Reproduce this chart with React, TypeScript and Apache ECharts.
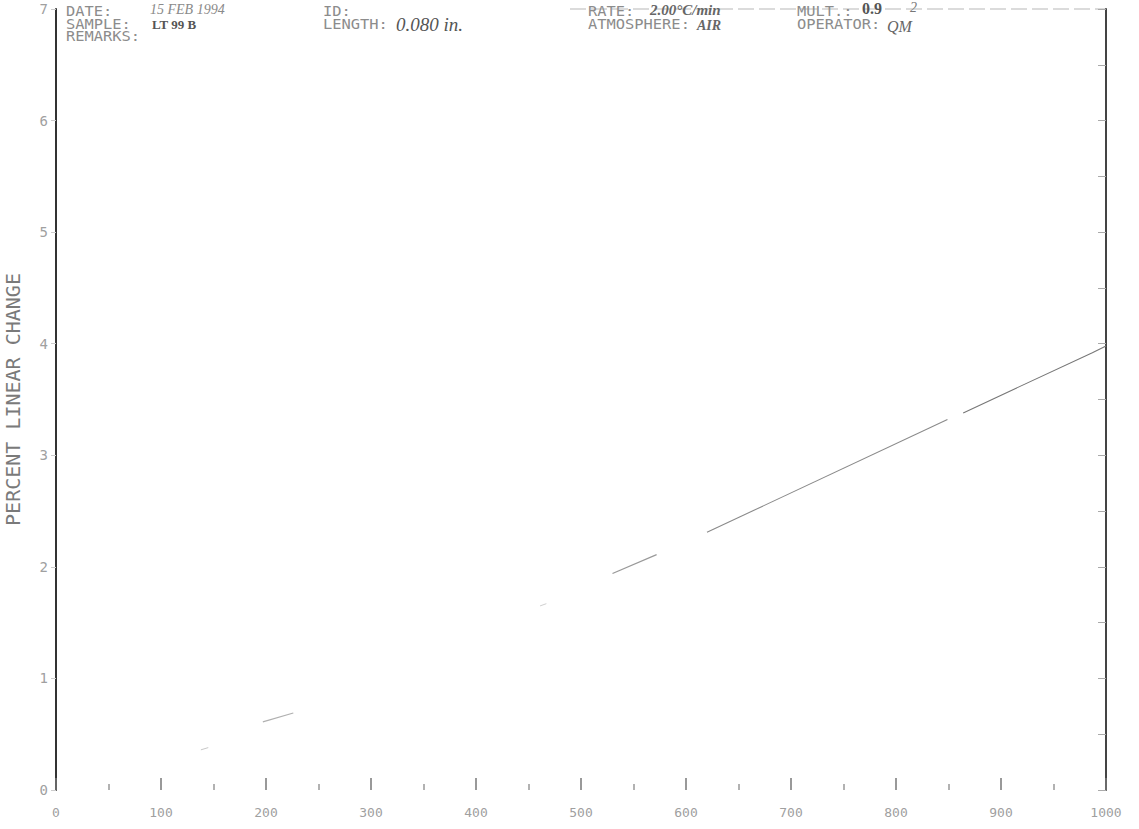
import React, { useEffect, useRef } from "react";
import * as echarts from "echarts";

// ---- data ----
const xTicks = [0, 100, 200, 300, 400, 500, 600, 700, 800, 900, 1000];
const yTicks = [0, 1, 2, 3, 4, 5, 6, 7];
const segA = [[138, 0.36], [145, 0.38]];
const segB = [[197, 0.61], [226, 0.69]];
const segC = [[461, 1.65], [467, 1.67]];
const segD = [[530, 1.94], [572, 2.11]];
const segE = [[620, 2.31], [849, 3.32]];
const segF = [[864, 3.38], [987, 3.92], [1000, 3.98]];
const yAxisTitle = "PERCENT LINEAR CHANGE";
const headerCol1 = ["DATE:", "SAMPLE:", "REMARKS:"];
const headerCol2 = ["ID:", "LENGTH:"];
const headerCol3 = ["RATE:", "ATMOSPHERE:"];
const headerCol4 = ["MULT.:", "OPERATOR:"];
const headerValues = ["15 FEB 1994", "LT 99 B", "0.080 in.", "2.00°C/min", "AIR", "0.9", "2", "QM"];

const MONO = "'DejaVu Sans Mono', 'Liberation Mono', monospace";
const HAND = "'Liberation Serif', 'DejaVu Serif', serif";

export default function App() {
  const ref = useRef<HTMLDivElement>(null);
  useEffect(() => {
    if (!ref.current) return;
    const chart = echarts.init(ref.current, undefined, { renderer: "svg" });
    const col = (lines: string[], x: number) => ({
      type: "text",
      left: x,
      top: 4,
      scaleX: 1.1,
      style: { text: lines.join("\n"), fill: "#8c8c8c", font: `14px ${MONO}`, lineHeight: 12.5 },
    });
    const val = (text: string, x: number, y: number, size: number, style: string, color: string) => ({
      type: "text",
      left: x,
      top: y,
      style: { text, fill: color, font: `${style} ${size}px ${HAND}` },
    });
    const seg = (data: number[][], color: string, width: number) => ({
      type: "line",
      data,
      showSymbol: false,
      symbol: "none",
      lineStyle: { color, width },
      silent: true,
    });
    chart.setOption({
      animation: false,
      backgroundColor: "#ffffff",
      grid: { left: 56, right: 33, top: 9, bottom: 39, containLabel: false, outerBoundsMode: "none" },
      xAxis: {
        type: "value",
        min: xTicks[0],
        max: xTicks[xTicks.length - 1],
        interval: 100,
        axisLine: { show: false },
        axisTick: { show: true, inside: true, length: 12, lineStyle: { color: "#777", width: 1.5 } },
        minorTick: { show: true, splitNumber: 2, length: 6, lineStyle: { color: "#999", width: 1.5 } },
        splitLine: { show: false },
        axisLabel: {
          color: "#a0a0a0",
          fontSize: 13,
          fontFamily: MONO,
          margin: 16,
          formatter: (v: number) => String(v),
        },
      },
      yAxis: [
        {
          type: "value",
          min: yTicks[0],
          max: yTicks[yTicks.length - 1],
          interval: 1,
          name: yAxisTitle,
          nameLocation: "middle",
          nameGap: 33,
          nameTextStyle: { color: "#7a7a7a", fontSize: 20, fontFamily: MONO },
          axisLine: { show: true, lineStyle: { color: "#333", width: 2 } },
          axisTick: { show: true, inside: false, length: 5, lineStyle: { color: "#ccc" } },
          splitLine: { show: false },
          axisLabel: { color: "#a0a0a0", fontSize: 14, fontFamily: MONO, margin: 8 },
        },
        {
          type: "value",
          position: "right",
          min: yTicks[0],
          max: yTicks[yTicks.length - 1],
          interval: 0.5,
          axisLine: { show: true, lineStyle: { color: "#444", width: 2 } },
          axisTick: { show: true, inside: true, length: 8, lineStyle: { color: "#aaa" } },
          axisLabel: { show: false },
          splitLine: { show: false },
        },
      ],
      series: [
        seg(segA, "#c8c8c8", 1),
        seg(segB, "#b0b0b0", 1.2),
        seg(segC, "#d0d0d0", 1),
        seg(segD, "#999", 1.2),
        seg(segE, "#8a8a8a", 1.1),
        seg(segF, "#777", 1.1),
      ],
      graphic: [
        {
          type: "line",
          shape: { x1: 570, y1: 9, x2: 1106, y2: 9 },
          style: { stroke: "#cfcfcf", lineWidth: 1.5, lineDash: [16, 5] },
        },
        col(headerCol1, 66),
        col(headerCol2, 323),
        col(headerCol3, 588),
        col(headerCol4, 797),
        val(headerValues[0], 150, 2, 14, "italic", "#8a8a8a"),
        val(headerValues[1], 152, 18, 13, "bold", "#555"),
        val(headerValues[2], 396, 15, 19, "italic", "#555"),
        val(headerValues[3], 650, 2, 15, "italic bold", "#666"),
        val(headerValues[4], 697, 18, 14, "italic bold", "#666"),
        val(headerValues[5], 862, 0, 16, "bold", "#555"),
        val(headerValues[6], 910, 0, 14, "italic", "#777"),
        val(headerValues[7], 887, 18, 16, "italic", "#666"),
      ],
    });
    return () => chart.dispose();
  }, []);
  return (
    <div
      ref={ref}
      style={{ position: "fixed", left: 0, top: 0, width: 1139, height: 829, background: "#fff" }}
    />
  );
}
